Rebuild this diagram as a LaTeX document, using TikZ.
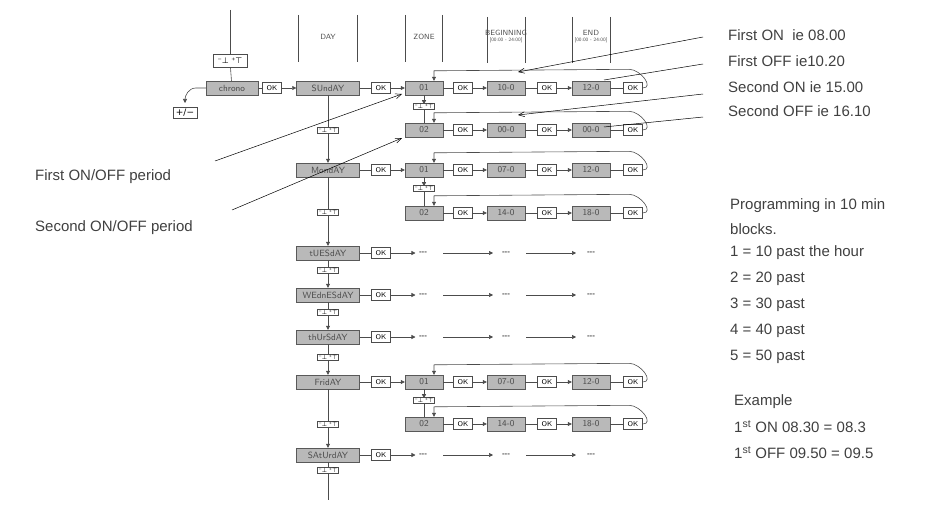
\documentclass[tikz,border=0pt]{standalone}
\usepackage{fontspec}
\setmainfont{Liberation Sans}
\newfontfamily\djfont{DejaVu Sans}
\usetikzlibrary{arrows.meta}
\begin{document}
\begin{tikzpicture}[x=1pt,y=-1pt,
  lcd/.style={draw=gray!70!black,fill=gray!55,minimum height=14pt,inner sep=1pt,font=\fontsize{9}{9}\selectfont\sffamily,text=black!70},
  okb/.style={draw=black!70,fill=white,minimum width=19pt,minimum height=11pt,inner sep=0.5pt,font=\fontsize{7}{7}\selectfont\sffamily},
  pm/.style={draw=black!70,fill=white,inner sep=1pt,font=\fontsize{6}{6}\selectfont\djfont},
  ln/.style={draw=black!70,line width=0.6pt},
  ar/.style={ln,-{Triangle[length=4pt,width=4pt]}},
  pt/.style={draw=black,line width=0.5pt,-{Straight Barb[length=6pt,width=5pt]}},
  hd/.style={font=\fontsize{7.5}{7.5}\selectfont\sffamily,text=black!70},
  dd/.style={font=\fontsize{8}{8}\selectfont\bfseries,text=black!70},
  lab/.style={font=\fontsize{15}{18}\selectfont,text=black!75,anchor=west,inner sep=0pt}]
\useasboundingbox (0,0) rectangle (939,508);
% column header lines
\foreach \x/\a/\b in {230/10/58,298/15/62,357/15/62,405/15/62,442/15/62,487/17/63,525/17/63,572/17/63,610/17/63}
  \draw[ln] (\x,\a) -- (\x,\b);
\node[hd] (hday) at (328,37) {DAY};
\node[hd] (hzone) at (424,37) {ZONE};
\node[hd] (hbeg) at (506,33) {BEGINNING};
\node[font=\fontsize{5}{5}\selectfont\sffamily,text=black!70] (hbr) at (506,40) {[00:00 - 24:00]};
\node[hd] (hend) at (591,33) {END};
\node[font=\fontsize{5}{5}\selectfont\sffamily,text=black!70] (her) at (591,40) {[00:00 - 24:00]};
% chrono
\node[pm,minimum width=34pt,minimum height=13pt,font=\fontsize{8}{8}\selectfont\djfont] (pm0) at (230,61) {⁻⊥ ⁺⊤};
\node[lcd,minimum width=52pt] (chr) at (232,88) {chrono};
\draw[ln] (pm0) -- (chr);
\coordinate (cl) at (185,103);
\draw[ar] (chr.west) -- ++(-10,0) to[out=180,in=90] (cl);
\node[pm,minimum width=24pt,minimum height=11pt,font=\fontsize{9}{9}\selectfont\djfont] (pmm) at (185,113) {+/−};
\node[okb] (okc) at (272,88) {OK};
\draw[ln] (chr) -- (okc);
% days
\foreach \n/\t/\y/\w in {sun/SUndAY/88/63,mon/MondAY/170/63,tue/tUESdAY/253/63,wed/WEdnESdAY/295/63,thu/thUrSdAY/337/63,fri/FridAY/382/63,sat/SAtUrdAY/455/63}{
  \node[lcd,minimum width=\w pt] (\n) at (328,\y) {\t};
  \node[okb] (ok\n) at (381,\y) {OK};
  \draw[ln] (\n) -- (ok\n);
}
\draw[ar] (okc) -- (sun);
% day vertical chain
\foreach \a/\b/\py in {sun/mon/130,mon/tue/212,tue/wed/270,wed/thu/312,thu/fri/357,fri/sat/424}{
  \draw[ar] (\a) -- (\b);
  \node[pm] (p\a) at (328,\py) {⁻⊥ ⁺⊤};
}
\coordinate (bot) at (328,500);
\draw[ln] (sat) -- (bot);
\node[pm] (psat) at (328,470) {⁻⊥ ⁺⊤};
% zone rows
\foreach \d/\r/\y/\z/\b/\e in {sun/a/88/01/10-0/12-0, sun/b/130/02/00-0/00-0, mon/a/170/01/07-0/12-0, mon/b/213/02/14-0/18-0, fri/a/382/01/07-0/12-0, fri/b/424/02/14-0/18-0}{
  \node[lcd,minimum width=38pt] (z\d\r) at (424,\y) {\z};
  \node[okb] (oz\d\r) at (463,\y) {OK};
  \node[lcd,minimum width=38pt] (b\d\r) at (506,\y) {\b};
  \node[okb] (ob\d\r) at (547,\y) {OK};
  \node[lcd,minimum width=38pt] (e\d\r) at (591,\y) {\e};
  \node[okb] (oe\d\r) at (633,\y) {OK};
  \draw[ln] (z\d\r) -- (oz\d\r); \draw[ar] (oz\d\r) -- (b\d\r);
  \draw[ln] (b\d\r) -- (ob\d\r); \draw[ar] (ob\d\r) -- (e\d\r);
  \draw[ln] (e\d\r) -- (oe\d\r);
  \draw[ar] (oe\d\r.east) to[out=0,in=0,looseness=1.3] ([xshift=-4pt,yshift=13pt]oe\d\r.north) -- ([xshift=10pt,yshift=10pt]z\d\r.north) -- ([xshift=10pt]z\d\r.north);
}
\foreach \d in {sun,mon,fri}{
  \draw[ar] (ok\d) -- (z\d a);
  \draw[ar] (z\d a.south) -- ++(0,9) coordinate (q\d);
  \node[pm,anchor=north] (pz\d) at ([yshift=1pt]q\d) {⁻⊥ ⁺⊤};
  \draw[ln] (pz\d) -- (z\d b.north);
}
% dotted rows
\foreach \d/\y in {tue/253,wed/295,thu/337,sat/455}{
  \node[dd] (d1\d) at (423,\y) {-{}-{}-};
  \node[dd] (d2\d) at (506,\y) {-{}-{}-};
  \node[dd] (d3\d) at (591,\y) {-{}-{}-};
  \draw[ar] (ok\d) -- (d1\d);
  \coordinate (s1\d) at (443,\y); \coordinate (s2\d) at (526,\y);
  \draw[ar] (s1\d) -- ++(50,0);
  \draw[ar] (s2\d) -- ++(50,0);
}
% right labels
\node[lab] (t1) at (728,35) {First ON\ \ ie 08.00};
\node[lab] (t2) at (728,61) {First OFF ie10.20};
\node[lab] (t3) at (728,87) {Second ON ie 15.00};
\node[lab] (t4) at (728,111) {Second OFF ie 16.10};
\draw[pt] (703,37) -- (518,72);
\draw[draw=black,line width=0.5pt] (703,64) -- (604,80);
\draw[pt] (703,94) -- (518,115);
\draw[draw=black,line width=0.5pt] (703,117) -- (604,127);
\node[lab] (l1) at (35,177) {First ON/OFF period};
\node[lab] (l2) at (35,228) {Second ON/OFF period};
\draw[pt] (215,161) -- (402,94);
\draw[pt] (232,210) -- (402,138);
% notes
\node[lab] (n1) at (730,206) {Programming in 10 min};
\node[lab] (n2) at (730,229) {blocks.};
\node[lab] (n3) at (730,253) {1 = 10 past the hour};
\node[lab] (n4) at (730,279) {2 = 20 past};
\node[lab] (n5) at (730,305) {3 = 30 past};
\node[lab] (n6) at (730,331) {4 = 40 past};
\node[lab] (n7) at (730,357) {5 = 50 past};
\node[lab] (n8) at (734,402) {Example};
\node[lab] (n9) at (734,427) {1\textsuperscript{st} ON 08.30 = 08.3};
\node[lab] (n10) at (734,453) {1\textsuperscript{st} OFF 09.50 = 09.5};
\end{tikzpicture}
\end{document}
